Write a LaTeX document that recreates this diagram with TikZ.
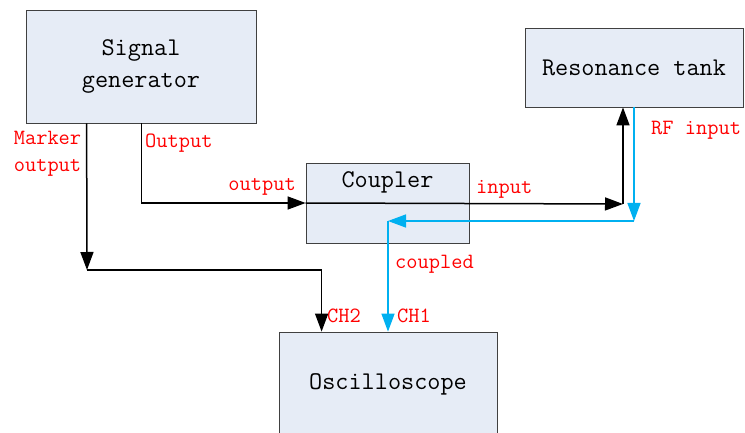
\documentclass[tikz,border=0pt]{standalone}
\usepackage{fontspec}
\usepackage{xcolor}
\usetikzlibrary{arrows.meta,positioning}
\definecolor{boxfill}{HTML}{E6ECF6}
\definecolor{sigblue}{HTML}{00B0F0}
\tikzset{
  every node/.style={font=\ttfamily},
  block/.style={draw=black!75, fill=boxfill, line width=0.8pt, align=center, inner sep=0pt, font=\ttfamily\fontsize{25.5}{32}\selectfont},
  tag/.style={text=red, inner sep=0pt, font=\ttfamily\fontsize{21.8}{27}\selectfont},
  arrow/.style={-{Triangle[length=18pt,width=13pt]}, line width=1.5pt},
  barrow/.style={-{Triangle[length=18pt,width=13pt]}, line width=1.5pt, draw=sigblue}
}
\begin{document}
\begin{tikzpicture}[x=1pt, y=-1pt]
\useasboundingbox (0,0) rectangle (745,433);

% Instruments
\node[block, minimum width=230pt, minimum height=113pt] (sg) at (141,66.5) {Signal\\generator};
\node[block, minimum width=218pt, minimum height=79pt] (tank) at (634,67.5) {Resonance tank};
\node[block, minimum width=163pt, minimum height=80pt,
  label={[anchor=north, font=\ttfamily\fontsize{25.5}{32}\selectfont, yshift=-5pt]north:Coupler}] (coupler) at (387.5,203) {};
\node[block, minimum width=218pt, minimum height=104pt] (osc) at (388,384) {Oscilloscope};

% Junction points
\coordinate (mk) at (87,270);
\coordinate (sp) at (623,204);
\coordinate (rf) at (634,221);
\coordinate (cp) at (388,221);

% Forward path (black)
\draw[arrow] ([xshift=61pt]sg.south west) -- (mk);
\draw[arrow] (mk) -| ([xshift=43pt]osc.north west);
\draw[arrow] ([xshift=116pt]sg.south west) |- (coupler.west);
\draw[arrow] (coupler.west) -- (sp);
\draw[arrow] (sp) -- (sp |- tank.south);

% Return path (blue)
\draw[barrow] (tank.south -| rf) -- (rf);
\draw[barrow] (rf) -- (cp);
\draw[barrow] (cp) -- (cp |- osc.north);

% Port labels
\node[tag, align=center] (lmk) at (47.5,154) {Marker\\output};
\node[tag, anchor=west] (lout) at (145,143) {Output};
\node[tag, anchor=east] (lcin) at (296,187) {output};
\node[tag, anchor=west] (lcout) at (476,189) {input};
\node[tag, anchor=west] (lrf) at (651,130) {RF input};
\node[tag, anchor=west] (lcpl) at (395,264) {coupled};
\node[tag, anchor=west] (lch2) at (327,316) {CH2};
\node[tag, anchor=west] (lch1) at (397,316) {CH1};

\end{tikzpicture}
\end{document}
